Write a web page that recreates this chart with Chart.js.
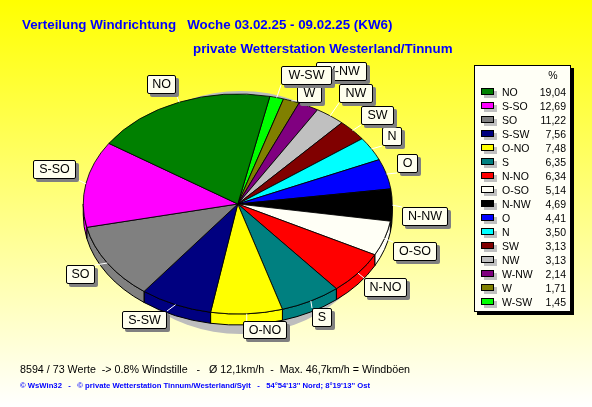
<!DOCTYPE html>
<html lang="de">
<head>
  <meta charset="UTF-8">
  <title>Verteilung Windrichtung</title>
  <script src="https://cdn.jsdelivr.net/npm/chart.js"></script>
  <style>
    html, body { margin: 0; padding: 0; }
    body { width: 592px; height: 407px; position: relative; overflow: hidden; font-family: "Liberation Sans", Arial, sans-serif; background: linear-gradient(#ffff00, #ffffff); }
    #wrap { position: absolute; left: 0; top: 0; width: 592px; height: 407px; }
    .title { position: absolute; color: #0000ff; font-weight: bold; font-size: 13.35px; white-space: pre; line-height: 16px; }
    .info { position: absolute; left: 20px; top: 362px; font-size: 10.7px; line-height: 14px; color: #000; white-space: pre; }
    .foot { position: absolute; left: 20px; top: 381px; font-size: 7.7px; line-height: 10px; font-weight: bold; color: #0000ff; white-space: pre; }
    .tag { position: absolute; box-sizing: border-box; background: #ffffee; border: 1px solid #000; border-radius: 2px; box-shadow: 3px 3px 0 #808080; font-size: 12.5px; text-align: center; white-space: nowrap; overflow: hidden; }
    #legend { position: absolute; left: 474px; top: 65px; width: 97px; height: 247px; box-sizing: border-box; background: #fffff6; border: 1px solid #000; box-shadow: 3px 3px 0 #000; font-size: 10.5px; }
    #legend .pct { position: absolute; left: 68px; top: 3px; width: 20px; text-align: center; }
    #legend .sw { position: absolute; left: 6px; width: 13px; height: 7px; box-sizing: border-box; border: 1px solid #000; box-shadow: 3px 3px 0 #c0c0c0; }
    #legend .nm { position: absolute; left: 27px; line-height: 14px; }
    #legend .val { position: absolute; right: 4px; line-height: 14px; }
  </style>
</head>
<body>
  <div id="wrap"><canvas id="pie" width="592" height="407"></canvas></div>
  <div class="title" style="left:22px;top:17px">Verteilung Windrichtung   Woche 03.02.25 - 09.02.25 (KW6)</div>
  <div class="title" style="left:193px;top:41px">private Wetterstation Westerland/Tinnum</div>
  <div class="info">8594 / 73 Werte  -&gt; 0.8% Windstille   -   Ø 12,1km/h  -  Max. 46,7km/h = Windböen</div>
  <div class="foot">© WsWin32   -   © private Wetterstation Tinnum/Westerland/Sylt   -   54°54'13'' Nord; 8°19'13'' Ost</div>
  <div id="legend"><div class="pct">%</div></div>
  <script>
    // Werte aus der Legende
    const directions = ['NO', 'S-SO', 'SO', 'S-SW', 'O-NO', 'S', 'N-NO', 'O-SO', 'N-NW', 'O', 'N', 'SW', 'NW', 'W-NW', 'W', 'W-SW'];
    const shares = [19.04, 12.69, 11.22, 7.56, 7.48, 6.35, 6.34, 5.14, 4.69, 4.41, 3.50, 3.13, 3.13, 2.14, 1.71, 1.45];
    const sliceColors = ['#008000', '#ff00ff', '#808080', '#000080', '#ffff00', '#008080', '#ff0000', '#fffff6', '#000000', '#0000ff', '#00ffff', '#800000', '#c0c0c0', '#800080', '#808000', '#00ff00'];

    // Beschriftungen: links, oben, rechts, unten
    const tagBoxes = {
      'NO': [147, 75, 176, 94], 'S-SO': [33, 160, 76, 179], 'SO': [66, 265, 95, 284], 'S-SW': [122, 311, 167, 329],
      'O-NO': [243, 321, 287, 339], 'S': [312, 308, 332, 327], 'N-NO': [364, 278, 407, 297], 'O-SO': [393, 242, 437, 261],
      'N-NW': [402, 207, 448, 226], 'O': [397, 154, 418, 173], 'N': [382, 127, 402, 146], 'SW': [361, 106, 394, 125],
      'NW': [339, 84, 373, 103], 'W-NW': [316, 62, 367, 81], 'W': [297, 84, 322, 103], 'W-SW': [281, 66, 332, 85]
    };

    const squash = 110 / 154.5;  // Ellipse
    const depth = 11;            // Hoehe der Seitenwand

    // im Uhrzeigersinn zeichnen, Legende laeuft andersherum
    const order = directions.map((d, i) => i).reverse();

    const legend = document.getElementById('legend');
    directions.forEach((d, i) => {
      const y = 19 + i * 14;
      legend.insertAdjacentHTML('beforeend',
        `<div class="sw" style="top:${y + 3}px;background:${sliceColors[i]}"></div>` +
        `<div class="nm" style="top:${y}px">${d}</div>` +
        `<div class="val" style="top:${y}px">${shares[i].toFixed(2).replace('.', ',')}</div>`);
      const b = tagBoxes[d];
      document.body.insertAdjacentHTML('beforeend',
        `<div class="tag" style="left:${b[0]}px;top:${b[1]}px;width:${b[2] - b[0]}px;height:${b[3] - b[1]}px;line-height:${b[3] - b[1] - 2}px">${d}</div>`);
    });

    function wall(ctx, el, cx, cy, rx, ry) {
      const pieces = [[0, Math.PI], [2 * Math.PI, 3 * Math.PI], [-2 * Math.PI, -Math.PI]];
      pieces.forEach(p => {
        const a = Math.max(el.startAngle, p[0]);
        const b = Math.min(el.endAngle, p[1]);
        if (a >= b) return;
        ctx.beginPath();
        ctx.ellipse(cx, cy + depth, rx, ry, 0, a, b);
        ctx.ellipse(cx, cy, rx, ry, 0, b, a, true);
        ctx.closePath();
        ctx.fillStyle = el.options.backgroundColor;
        ctx.fill();
        ctx.strokeStyle = '#000';
        ctx.lineWidth = 1;
        ctx.stroke();
      });
    }

    const tiltPlugin = {
      id: 'tilt',
      beforeDatasetsDraw(chart) {
        const ctx = chart.ctx;
        const arcs = chart.getDatasetMeta(0).data;
        const cx = arcs[0].x, cy = arcs[0].y, rx = arcs[0].outerRadius, ry = rx * squash;

        // Schatten hinter der Torte
        ctx.fillStyle = '#bdbdbd';
        ctx.beginPath();
        ctx.ellipse(cx + 3, cy + 8.5, 140, 121.5, 0, 0, 2 * Math.PI);
        ctx.fill();

        arcs.forEach(el => wall(ctx, el, cx, cy, rx, ry));

        ctx.save();
        ctx.translate(cx, cy);
        ctx.scale(1, squash);
        ctx.translate(-cx, -cy);
      },
      afterDatasetsDraw(chart) {
        const ctx = chart.ctx;
        ctx.restore();
        const arcs = chart.getDatasetMeta(0).data;
        const cx = arcs[0].x, cy = arcs[0].y, rx = arcs[0].outerRadius, ry = rx * squash;

        // weisse Linien zu den Beschriftungen
        ctx.strokeStyle = '#fff';
        ctx.lineWidth = 1;
        arcs.forEach((el, i) => {
          const mid = (el.startAngle + el.endAngle) / 2;
          const px = cx + Math.cos(mid) * rx;
          const py = cy + Math.sin(mid) * ry;
          const b = tagBoxes[directions[order[i]]];
          const qx = Math.min(Math.max(px, b[0]), b[2]);
          const qy = Math.min(Math.max(py, b[1]), b[3]);
          ctx.beginPath();
          ctx.moveTo(px, py);
          ctx.lineTo(qx, qy);
          ctx.stroke();
        });
      }
    };

    new Chart(document.getElementById('pie').getContext('2d'), {
      type: 'pie',
      data: {
        labels: order.map(i => directions[i]),
        datasets: [{
          data: order.map(i => shares[i]),
          backgroundColor: order.map(i => sliceColors[i]),
          borderColor: '#000',
          borderWidth: 1,
          clip: false
        }]
      },
      options: {
        responsive: false,
        animation: false,
        rotation: 12,
        layout: { padding: { left: 82.5, right: 199, top: 49, bottom: 48 } },
        plugins: { legend: { display: false }, tooltip: { enabled: false }, title: { display: false } }
      },
      plugins: [tiltPlugin]
    });
  </script>
</body>
</html>
